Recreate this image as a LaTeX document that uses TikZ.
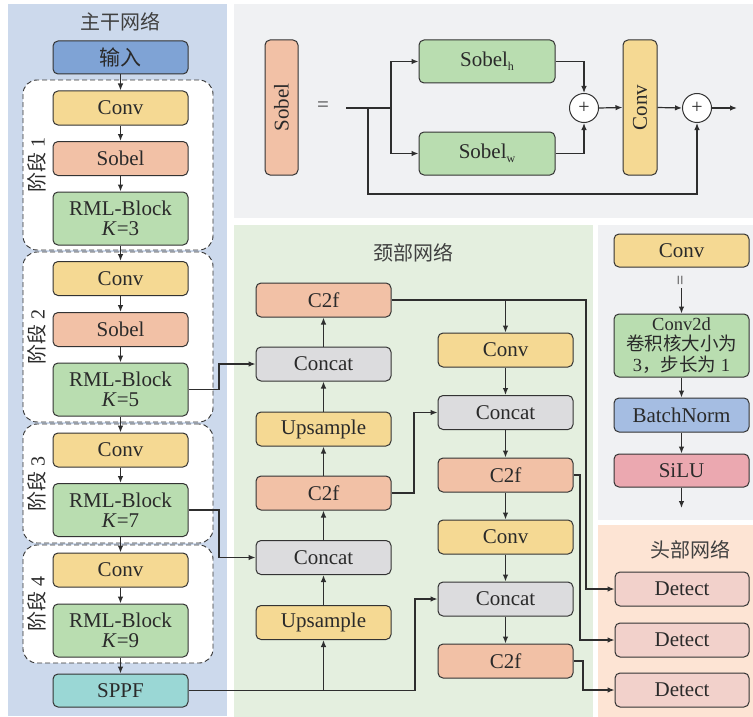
\documentclass[tikz,border=0pt]{standalone}
\usepackage{fontspec}
\setmainfont{Liberation Serif}
\newfontfamily\cjk{Noto Sans CJK SC}
\usetikzlibrary{arrows.meta,calc}
\definecolor{bgBack}{HTML}{CCD9EC}
\definecolor{bgGray}{HTML}{F0F1F3}
\definecolor{bgNeck}{HTML}{E4EFDF}
\definecolor{bgHead}{HTML}{FDE4D4}
\definecolor{cYel}{HTML}{F5D993}
\definecolor{cSal}{HTML}{F2C1A6}
\definecolor{cGrn}{HTML}{B9DDB0}
\definecolor{cGry}{HTML}{DCDCDE}
\definecolor{cBlu}{HTML}{7FA3D5}
\definecolor{cTeal}{HTML}{9AD7D5}
\definecolor{cBN}{HTML}{A5BDE2}
\definecolor{cSiLU}{HTML}{EBA8B0}
\definecolor{cDet}{HTML}{F2D1CB}
\definecolor{bdr}{HTML}{333333}
\definecolor{txt}{HTML}{2A2A2A}
\definecolor{ttl}{HTML}{404040}
\begin{document}
\begin{tikzpicture}[x=1pt,y=-1pt,
  box/.style={draw=bdr, line width=1pt, rounded corners=5pt, minimum width=135pt,
    minimum height=34pt, inner sep=0pt, text=txt, font=\fontsize{21}{21}\selectfont, align=center},
  tall/.style={box, minimum height=53pt, font=\fontsize{21}{22}\selectfont},
  stagebox/.style={draw=bdr, line width=0.9pt, dash pattern=on 5pt off 3pt, rounded corners=14pt,
    fill=white, minimum width=190pt, inner sep=0pt},
  stagelbl/.style={rotate=90, text=txt, font=\fontsize{20}{20}\selectfont, inner sep=0pt},
  title/.style={text=ttl, font=\fontsize{20}{20}\selectfont\cjk, inner sep=0pt},
  plus/.style={circle, draw=bdr, line width=1pt, fill=white, minimum size=29pt, inner sep=0pt,
    font=\fontsize{20}{20}\selectfont, text=txt},
  ln/.style={draw=bdr!90!black, line width=1.2pt},
  arr/.style={ln, -{Latex[length=7pt,width=5.5pt]}}
]
\useasboundingbox[fill=white] (0,0) rectangle (753,717);
% panels
\fill[bgBack] (8,4) rectangle (227,716);
\fill[bgGray] (234,4) rectangle (753,218);
\fill[bgNeck] (234,225) rectangle (593,717);
\fill[bgGray] (598,225) rectangle (753,520);
\fill[bgHead] (598,525) rectangle (753,717);

% ---------------- backbone ----------------
\node[title] (tb) at (120,22) {主干网络};
\node[stagebox, minimum height=170pt] (st1) at (118,165) {};
\node[stagebox, minimum height=170pt] (st2) at (118,337) {};
\node[stagebox, minimum height=119pt] (st3) at (118,483.5) {};
\node[stagebox, minimum height=118pt] (st4) at (118,604) {};
\node[stagelbl] (l1) at (37,165) {{\cjk 阶段} 1};
\node[stagelbl] (l2) at (37,337) {{\cjk 阶段} 2};
\node[stagelbl] (l3) at (37,483.5) {{\cjk 阶段} 3};
\node[stagelbl] (l4) at (37,604) {{\cjk 阶段} 4};

\node[box, fill=cBlu, minimum height=33pt] (in) at (120.5,57.5) {\cjk 输入};
\node[box, fill=cYel] (c1) at (120.5,108) {Conv};
\node[box, fill=cSal] (s1) at (120.5,158.5) {Sobel};
\node[tall, fill=cGrn] (r1) at (120.5,218.5) {RML-Block\\[-2pt]\textit{K}=3};
\node[box, fill=cYel] (c2) at (120.5,278.5) {Conv};
\node[box, fill=cSal] (s2) at (120.5,329.5) {Sobel};
\node[tall, fill=cGrn] (r2) at (120.5,389.5) {RML-Block\\[-2pt]\textit{K}=5};
\node[box, fill=cYel] (c3) at (120.5,450) {Conv};
\node[tall, fill=cGrn] (r3) at (120.5,510) {RML-Block\\[-2pt]\textit{K}=7};
\node[box, fill=cYel] (c4) at (120.5,570) {Conv};
\node[tall, fill=cGrn] (r4) at (120.5,630.5) {RML-Block\\[-2pt]\textit{K}=9};
\node[box, fill=cTeal, minimum height=33pt] (sppf) at (120.5,690.5) {SPPF};

\foreach \a/\b in {in/c1,c1/s1,s1/r1,r1/c2,c2/s2,s2/r2,r2/c3,c3/r3,r3/c4,c4/r4,r4/sppf}
  \draw[arr] (\a.south) -- (\b.north);

% ---------------- Sobel panel ----------------
\node[box, fill=cSal, rotate=90, minimum width=135pt, minimum height=33pt] (sob) at (281.5,107.5) {Sobel};
\node[text=ttl, font=\fontsize{21}{21}\selectfont, inner sep=0pt] (eq) at (323,107) {=};
\coordinate (sin) at (346,108);
\coordinate (sbr) at (391,108);
\coordinate (sskip) at (368,108);
\node[box, fill=cGrn, minimum width=136pt, minimum height=43pt] (sh) at (487,61.5)
  {Sobel\raisebox{-4pt}{\fontsize{12}{12}\selectfont h}};
\node[box, fill=cGrn, minimum width=136pt, minimum height=43pt] (sw) at (487,153.5)
  {Sobel\raisebox{-4pt}{\fontsize{12}{12}\selectfont w}};
\node[plus] (p1) at (584,108) {+};
\node[box, fill=cYel, rotate=90, minimum width=135pt, minimum height=34pt] (convS) at (640,107.5) {Conv};
\node[plus] (p2) at (697,108) {+};
\coordinate (sout) at (737,108);

\draw[ln] (sin) -- (sbr);
\draw[arr] (sbr) |- (sh.west);
\draw[arr] (sbr) |- (sw.west);
\draw[arr] (sh.east) -| (p1.north);
\draw[arr] (sw.east) -| (p1.south);
\draw[arr] (p1.east) -- (convS.north);
\draw[arr] (convS.south) -- (p2.west);
\draw[arr] (p2.east) -- (sout);
\coordinate (skb) at (368,194);
\draw[arr] (sskip) -- (skb) -| (p2.south);

% ---------------- neck ----------------
\node[title] (tn) at (413,253) {颈部网络};
\node[box, fill=cSal] (nC1) at (323.5,300) {C2f};
\node[box, fill=cGry] (nK1) at (323.5,364) {Concat};
\node[box, fill=cYel] (nU1) at (323.5,429) {Upsample};
\node[box, fill=cSal] (nC2) at (323.5,493) {C2f};
\node[box, fill=cGry] (nK2) at (323.5,557.5) {Concat};
\node[box, fill=cYel] (nU2) at (323.5,622.5) {Upsample};

\node[box, fill=cYel] (rV1) at (505.5,350) {Conv};
\node[box, fill=cGry] (rK1) at (505.5,412.5) {Concat};
\node[box, fill=cSal] (rC1) at (505.5,475) {C2f};
\node[box, fill=cYel] (rV2) at (505.5,537) {Conv};
\node[box, fill=cGry] (rK2) at (505.5,599) {Concat};
\node[box, fill=cSal] (rC2) at (505.5,661) {C2f};

\foreach \a/\b in {nU2/nK2,nK2/nC2,nC2/nU1,nU1/nK1,nK1/nC1}
  \draw[arr] (\a.north) -- (\b.south);
\foreach \a/\b in {rV1/rK1,rK1/rC1,rC1/rV2,rV2/rK2,rK2/rC2}
  \draw[arr] (\a.south) -- (\b.north);

% ---------------- head ----------------
\node[title] (th) at (690,550) {头部网络};
\node[box, fill=cDet, minimum width=134pt] (d1) at (682,589) {Detect};
\node[box, fill=cDet, minimum width=134pt] (d2) at (682,640) {Detect};
\node[box, fill=cDet, minimum width=134pt] (d3) at (682,690) {Detect};

% ---------------- Conv detail ----------------
\node[box, fill=cYel, minimum height=33pt] (cv) at (681.5,250.5) {Conv};
\node[text=ttl, rotate=90, font=\fontsize{18}{18}\selectfont, inner sep=0pt] (cveq) at (682,280) {=};
\coordinate (cvs) at (681.5,288);
\node[box, fill=cGrn, minimum height=63pt, font=\fontsize{18.5}{20.5}\selectfont] (cv2d) at (681.5,345.5)
  {Conv2d\\{\cjk 卷积核大小为}\\3{\cjk ，步长为} 1};
\node[box, fill=cBN] (bn) at (681.5,415) {BatchNorm};
\node[box, fill=cSiLU, minimum height=33pt] (silu) at (681.5,470.5) {SiLU};
\coordinate (cve) at (681.5,508);
\draw[arr] (cvs) -- (cv2d.north);
\draw[arr] (cv2d.south) -- (bn.north);
\draw[arr] (bn.south) -- (silu.north);
\draw[arr] (silu.south) -- (cve);

% ---------------- connections ----------------
\coordinate (b5) at (219,364);
\draw[arr] (r2.east) -| (b5) -- (nK1.west);
\coordinate (b7) at (219,557.5);
\draw[arr] (r3.east) -| (b7) -- (nK2.west);
\coordinate (sj) at (415,599);
\draw[arr] (sppf.east) -| (sj) -- (rK2.west);
\draw[arr] (nU2.south |- sppf.east) -- (nU2.south);
\coordinate (mj) at (414,412.5);
\draw[arr] (nC2.east) -| (mj) -- (rK1.west);
\coordinate (j1) at (586,300);
\draw[arr] (nC1.east) -- (j1) |- (d1.west);
\draw[arr] (rV1.north |- nC1.east) -- (rV1.north);
\coordinate (j2) at (580,475);
\draw[arr] (rC1.east) -- (j2) |- (d2.west);
\coordinate (j3) at (583,661);
\draw[arr] (rC2.east) -- (j3) |- (d3.west);
\end{tikzpicture}
\end{document}
